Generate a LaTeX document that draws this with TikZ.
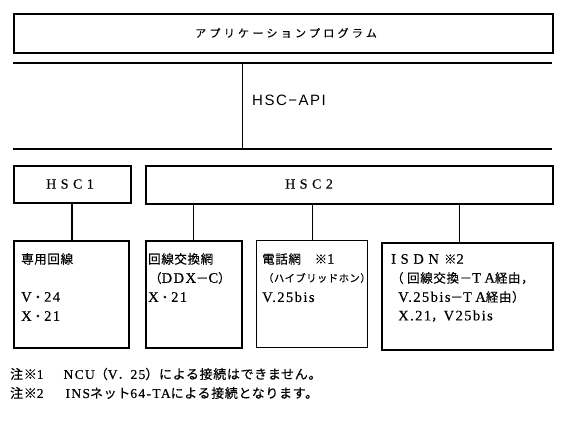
\documentclass[tikz,border=0pt]{standalone}
\usepackage{fontspec}
\setmainfont[LetterSpace=10, FakeBold=0.3]{Liberation Serif}
\newfontfamily\jp[LetterSpace=5, FakeBold=0.3]{Noto Sans CJK JP}
\newfontfamily\jptitle[LetterSpace=30, FakeBold=0.2]{Noto Sans CJK JP}
\newfontfamily\latwide[LetterSpace=32, FakeBold=0.3]{Liberation Serif}
\newfontfamily\apifont[LetterSpace=10]{Liberation Sans}
\usetikzlibrary{positioning}

\newcommand\boxsize{\fontsize{14.5}{16}\selectfont}
\newcommand\ja[1]{{\jp\fontsize{12.5}{14}\selectfont #1}}
\newcommand\jn[1]{{\jp\fontsize{13}{15}\selectfont #1}}

\begin{document}
\begin{tikzpicture}[x=1pt, y=-1pt,
  box/.style={draw, line width=1.6pt, anchor=north west, inner sep=0pt, minimum height=107pt},
  lbl/.style={anchor=west, inner sep=0pt, font=\boxsize},
  bar/.style={line width=1.6pt},
  link/.style={line width=1pt},
  thicklink/.style={line width=1.8pt}]

  \useasboundingbox (0,0) rectangle (567,425);

  % application program
  \node[box, minimum width=539pt, minimum height=39pt] (app) at (13,13) {};
  \node[anchor=west, inner sep=0pt, font=\jptitle\fontsize{11}{12}\selectfont] (apptext) at (195,33) {アプリケーションプログラム};

  % HSC-API layer
  \coordinate (apiTL) at (13,63);
  \coordinate (apiTR) at (552,63);
  \coordinate (apiBL) at (13,149);
  \coordinate (apiBR) at (552,149);
  \coordinate (apiX) at (242,63);
  \draw[bar] (apiTL) -- (apiTR);
  \draw[bar] (apiBL) -- (apiBR);
  \draw[link] (apiX) -- (apiX |- apiBL);
  \node[anchor=west, inner sep=0pt, font=\apifont\fontsize{15}{17}\selectfont] (api) at (252,100) {HSC−API};

  % HSC boxes
  \node[box, minimum width=117pt, minimum height=37pt] (hsc1) at (13,165) {};
  \node[box, minimum width=407pt, minimum height=38pt] (hsc2) at (145,165) {};
  \node[lbl, font=\latwide\fontsize{14}{16}\selectfont] (hsc1text) at (46,184) {HSC1};
  \node[lbl, font=\latwide\fontsize{14}{16}\selectfont] (hsc2text) at (285,184) {HSC2};

  % lines
  \node[box, minimum width=115pt] (leased) at (13,240) {};
  \node[box, minimum width=96pt] (ddx) at (145,240) {};
  \node[box, minimum width=111pt, line width=1.3pt] (tel) at (256,240) {};
  \node[box, minimum width=171pt] (isdn) at (381,242) {};

  \draw[thicklink] (hsc1.south) -- (hsc1.south |- leased.north);
  \draw[link] (ddx.north |- hsc2.south) -- (ddx.north);
  \draw[link] (tel.north |- hsc2.south) -- (tel.north);
  \draw[link] ([xshift=-7.5pt]isdn.north |- hsc2.south) -- ([xshift=-7.5pt]isdn.north);

  % leased line
  \node[lbl] (leased1) at (21,259) {\ja{専用回線}};
  \node[lbl] (leased2) at (21,297) {V\ja{・}24};
  \node[lbl] (leased3) at (21,316) {X\ja{・}21};

  % circuit switched
  \node[lbl] (ddx1) at (148,259) {\ja{回線交換網}};
  \node[lbl] (ddx2) at (149,278) {\ja{（}DDX\ja{－}C\ja{）}};
  \node[lbl] (ddx3) at (148,297) {X\ja{・}21};

  % telephone
  \node[lbl] (tel1) at (262,259) {\ja{電話網　※}1};
  \node[lbl, font=\jp\fontsize{10.3}{11}\selectfont] (tel2) at (263,278) {（ハイブリッドホン）};
  \node[lbl] (tel3) at (262,297) {V.25bis};

  % ISDN
  \node[lbl] (isdn1) at (391,259) {{\latwide ISDN} \ja{※}2};
  \node[lbl] (isdn2) at (391,278) {\ja{（ 回線交換－}{\latwide TA}\ja{経由，}};
  \node[lbl] (isdn3) at (398,297) {V.25bis\ja{－}{\latwide TA}\ja{経由）}};
  \node[lbl] (isdn4) at (398,316) {X.21\ja{，}V25bis};

  % notes
  \node[lbl, font=\fontsize{13.5}{15}\selectfont] (note1) at (10,374) {\jn{注※}1\hspace{20pt}NCU\jn{（}V\jn{．}25\jn{）による接続はできません。}};
  \node[lbl, font=\fontsize{13.5}{15}\selectfont] (note2) at (10,393) {\jn{注※}2\hspace{22pt}INS\jn{ネット}64-TA\jn{による接続となります。}};
\end{tikzpicture}
\end{document}
